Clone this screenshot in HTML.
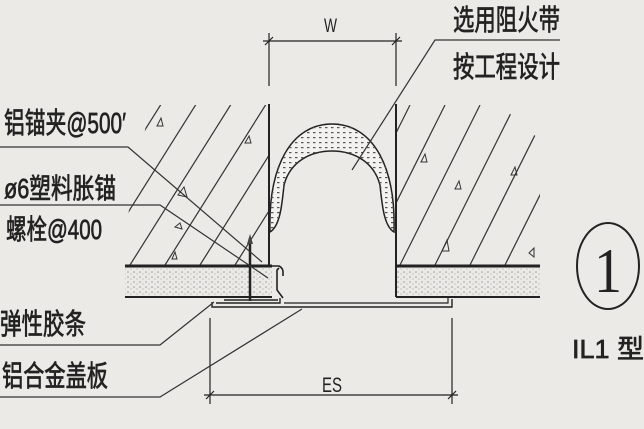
<!DOCTYPE html>
<html><head><meta charset="utf-8"><style>
html,body{margin:0;padding:0;background:#ebeae6;}
svg{display:block}
text{font-family:"Liberation Sans","Noto Sans CJK SC",sans-serif;fill:#222;}
</style></head><body>
<svg width="644" height="429" viewBox="0 0 644 429" xmlns="http://www.w3.org/2000/svg">
<rect width="644" height="429" fill="#ebeae6"/>
<defs>
<clipPath id="cl"><polygon points="125,265 125,230 150,105 269,105 269,265"/></clipPath>
<clipPath id="cr"><polygon points="396,105 500,105 540,140 540,265 396,265"/></clipPath>
<pattern id="dots" width="6" height="5" patternUnits="userSpaceOnUse"><rect x="1" y="2" width="2.5" height="1.2" fill="#555"/></pattern>
<pattern id="sand" width="6" height="5" patternUnits="userSpaceOnUse"><circle cx="2" cy="2" r="0.8" fill="#999"/><circle cx="5" cy="4" r="0.6" fill="#aaa"/></pattern>
</defs>
<g clip-path="url(#cl)" stroke="#333" stroke-width="1.2">
<line x1="60" y1="265" x2="170" y2="90"/><line x1="95" y1="265" x2="205" y2="90"/>
<line x1="130" y1="265" x2="240" y2="90"/><line x1="165" y1="265" x2="275" y2="90"/>
<line x1="200" y1="265" x2="310" y2="90"/><line x1="235" y1="265" x2="345" y2="90"/>
</g>
<g clip-path="url(#cr)" stroke="#333" stroke-width="1.2">
<line x1="330" y1="265" x2="410" y2="105"/><line x1="365" y1="265" x2="445" y2="105"/>
<line x1="400" y1="265" x2="480" y2="105"/><line x1="435" y1="265" x2="515" y2="105"/>
<line x1="470" y1="265" x2="550" y2="105"/><line x1="505" y1="265" x2="585" y2="105"/>
</g>
<g fill="none" stroke="#333" stroke-width="1">
<path d="M157,126 l4,-8 l2,8z"/><path d="M178,195 l6,-8 l3,10z"/><path d="M175,227 l5,-4 l2,6z"/><path d="M172,259 l3,-7 l2,7z"/><path d="M245,143 l4,-7 l2,7z"/>
<path d="M421,162 l4,-8 l2,8z"/><path d="M455,189 l4,-8 l2,8z"/><path d="M511,175 l4,-8 l2,8z"/><path d="M442,251 l5,-11 l2,11z"/><path d="M534,257 l-5,-4 l5,-5z"/>
</g>
<line x1="269" y1="104" x2="269" y2="266" stroke="#222" stroke-width="2"/>
<line x1="396" y1="104" x2="396" y2="266" stroke="#222" stroke-width="2"/>
<rect x="125" y="266" width="147" height="31" fill="url(#sand)"/>
<rect x="396" y="266" width="144" height="31" fill="url(#sand)"/>
<line x1="125" y1="266" x2="272" y2="266" stroke="#222" stroke-width="3"/>
<line x1="396" y1="266" x2="540" y2="266" stroke="#222" stroke-width="3"/>
<line x1="125" y1="297" x2="272" y2="297" stroke="#222" stroke-width="2"/>
<line x1="396" y1="297" x2="540" y2="297" stroke="#222" stroke-width="2"/>
<line x1="396" y1="266" x2="396" y2="297" stroke="#222" stroke-width="2"/>
<path d="M270,232 C268,165 292,124 332,124 C372,124 396,165 394,232 C384,226 382,205 380,185 C374,162 354,151 332,151 C310,151 290,162 284,185 C282,205 280,226 270,232z" fill="#f3f2ee" stroke="#222" stroke-width="1.5"/>
<path d="M270,232 C268,165 292,124 332,124 C372,124 396,165 394,232 C384,226 382,205 380,185 C374,162 354,151 332,151 C310,151 290,162 284,185 C282,205 280,226 270,232z" fill="url(#dots)"/>
<path d="M269,266 L279,266 Q283,268 283,272 L283,276 M279,268 L277,270 L277,290 L283,298" fill="none" stroke="#222" stroke-width="1.6"/>
<line x1="250" y1="238" x2="250" y2="301" stroke="#222" stroke-width="2.5"/>
<path d="M247,244 L250,234 L253,244z" fill="#444"/>
<path d="M212,302 L212,307 L452,307 L452,299 M216,303 L280,303 L280,298 M224,300 L278,300" fill="none" stroke="#222" stroke-width="1.4"/>
<path d="M284,303 L448,303 L448,298" fill="none" stroke="#222" stroke-width="1.2"/>
<g stroke="#222" stroke-width="1.2">
<line x1="269" y1="33" x2="269" y2="86"/><line x1="396" y1="33" x2="396" y2="86"/>
<line x1="263" y1="41" x2="402" y2="41"/>
<line x1="265" y1="45" x2="273" y2="37"/><line x1="392" y1="45" x2="400" y2="37"/>
<line x1="210" y1="318" x2="210" y2="404"/><line x1="452" y1="318" x2="452" y2="404"/>
<line x1="204" y1="395" x2="458" y2="395"/>
<line x1="206" y1="399" x2="214" y2="391"/><line x1="448" y1="399" x2="456" y2="391"/>
</g>
<text x="324" y="32" font-size="19" textLength="13" lengthAdjust="spacingAndGlyphs">W</text>
<text x="322" y="392" font-size="21" textLength="20" lengthAdjust="spacingAndGlyphs">ES</text>
<g fill="none" stroke="#333" stroke-width="1.2">
<polyline points="0,147 128,147 262,262"/>
<polyline points="0,205 160,205 268,278"/>
<polyline points="0,345 160,345 214,302"/>
<polyline points="0,397 160,397 302,309"/>
<polyline points="560,40 435,40 352,170"/>
</g>
<g font-size="29" stroke="#222" stroke-width="0.7">
<text x="4" y="133" textLength="122" lengthAdjust="spacingAndGlyphs">铝锚夹@500′</text>
<text x="4" y="198" font-size="28" textLength="112" lengthAdjust="spacingAndGlyphs">ø6塑料胀锚</text>
<text x="6" y="239" font-size="28" textLength="96" lengthAdjust="spacingAndGlyphs">螺栓@400</text>
<text x="0" y="334" textLength="86" lengthAdjust="spacingAndGlyphs">弹性胶条</text>
<text x="2" y="386" textLength="106" lengthAdjust="spacingAndGlyphs">铝合金盖板</text>
<text x="453" y="30" textLength="107" lengthAdjust="spacingAndGlyphs">选用阻火带</text>
<text x="453" y="77" textLength="107" lengthAdjust="spacingAndGlyphs">按工程设计</text>
<text x="572" y="358" font-size="26" textLength="72" lengthAdjust="spacingAndGlyphs">IL1 型</text>
</g>
<ellipse cx="608" cy="266" rx="31" ry="43" fill="none" stroke="#222" stroke-width="2"/>
<text x="594" y="292" font-size="64" style="font-family:'Liberation Serif',serif" textLength="28" lengthAdjust="spacingAndGlyphs">1</text>
</svg>
</body></html>
